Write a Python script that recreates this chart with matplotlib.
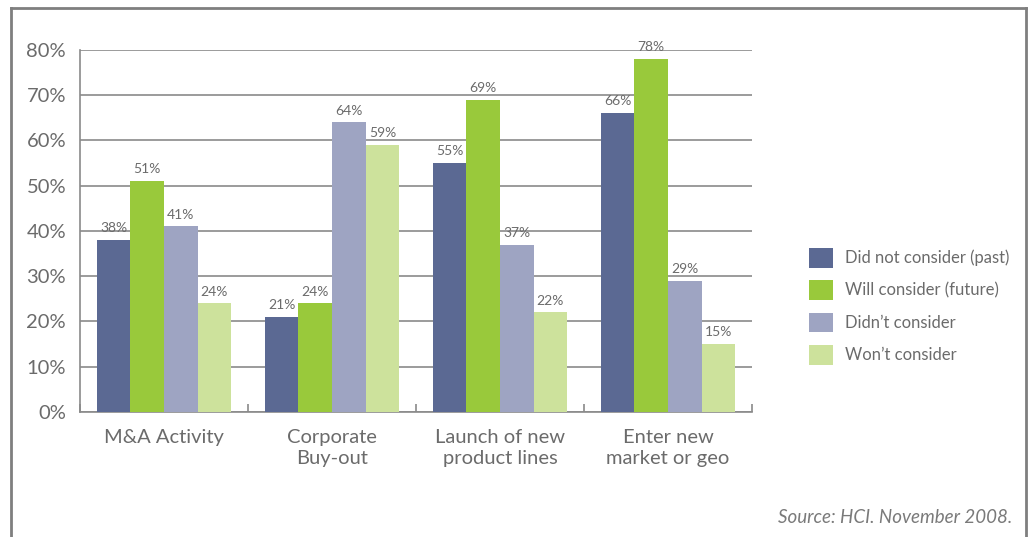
import numpy as np
import matplotlib
matplotlib.use("Agg")
import matplotlib.pyplot as plt
from matplotlib.lines import Line2D
from matplotlib.patches import Patch

# Data
categories = ["M&A Activity", "Corporate\nBuy-out", "Launch of new\nproduct lines", "Enter new\nmarket or geo"]
series_names = ["Did not consider (past)", "Will consider (future)", "Didn\u2019t consider", "Won\u2019t consider"]
did_not_consider = [38, 21, 55, 66]
will_consider = [51, 24, 69, 78]
didnt_consider = [41, 64, 37, 29]
wont_consider = [24, 59, 22, 15]
y_ticks = [0, 10, 20, 30, 40, 50, 60, 70, 80]

series = [did_not_consider, will_consider, didnt_consider, wont_consider]
colors = ["#5b6993", "#99c93b", "#9ea4c2", "#cde29c"]
text_gray = "#6b6b6b"
plt.rcParams["font.family"] = ["Lato", "DejaVu Sans"]

fig = plt.figure(figsize=(10.31, 5.37), dpi=100)
ax = fig.add_axes([0.0776, 0.2328, 0.6518, 0.6741])

x = np.arange(len(categories))
width = 0.2
for i, (vals, col) in enumerate(zip(series, colors)):
    pos = x + (i - 1.5) * width
    ax.bar(pos, vals, width, color=col, zorder=3, label=series_names[i])
    for p, v in zip(pos, vals):
        ax.text(p, v + 1.3, f"{v}%", ha="center", va="bottom", fontsize=10, color=text_gray)

ax.set_xlim(-0.5, len(categories) - 0.5)
ax.set_ylim(0, 80)
ax.set_yticks(y_ticks)
ax.set_yticklabels([f"{t}%" for t in y_ticks], fontsize=14.5, color=text_gray)
ax.yaxis.grid(True, color="#8a8a8a", linewidth=1.2, zorder=0)
ax.tick_params(axis="y", length=0, pad=10)

# group labels, with boundary ticks on the x axis
ax.set_xticks(x)
ax.set_xticklabels(categories, fontsize=14.5, color=text_gray, linespacing=1.3)
ax.tick_params(axis="x", length=0, pad=12)
ax.set_xticks(np.arange(len(categories) + 1) - 0.5, minor=True)
ax.tick_params(axis="x", which="minor", direction="in", length=6, color="#8a8a8a", width=1.2)

for s in ["top", "right"]:
    ax.spines[s].set_visible(False)
for s in ["left", "bottom"]:
    ax.spines[s].set_color("#8a8a8a")
    ax.spines[s].set_linewidth(1.2)

handles = [Patch(facecolor=c, edgecolor="none") for c in colors]
fig.legend(handles, series_names, loc="upper left", bbox_to_anchor=(0.77, 0.566),
           frameon=False, fontsize=12, labelcolor=text_gray,
           handlelength=1.45, handleheight=1.45, labelspacing=0.75, handletextpad=0.7)

fig.text(0.982, 0.037, "Source: HCI. November 2008.", ha="right", va="center",
         fontsize=13.5, style="italic", color="#7a7a7a")

# outer frame (open at the bottom)
frame = dict(color="#7f7f7f", linewidth=2, transform=fig.transFigure)
fig.add_artist(Line2D([0.011, 0.011], [0.0, 0.985], **frame))
fig.add_artist(Line2D([0.011, 0.995], [0.985, 0.985], **frame))
fig.add_artist(Line2D([0.995, 0.995], [0.0, 0.985], **frame))

fig.savefig("out.png", dpi=100)
